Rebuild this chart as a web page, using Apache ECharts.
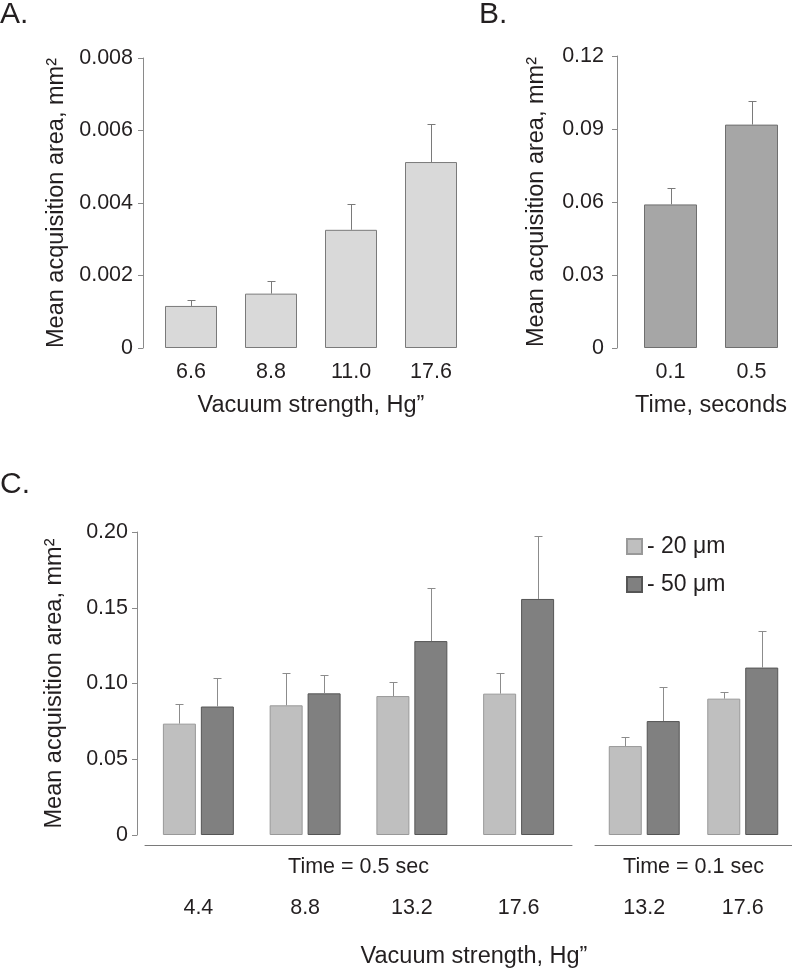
<!DOCTYPE html>
<html>
<head>
<meta charset="utf-8">
<script src="https://cdn.jsdelivr.net/npm/echarts@6/dist/echarts.min.js"></script>
<style>
  html, body { margin: 0; padding: 0; background: #fff; }
  #chart { width: 792px; height: 970px; }
</style>
</head>
<body>
<div id="chart"></div>
<script>
// panel A: vacuum strength
const vacuumA = ['6.6', '8.8', '11.0', '17.6'];
const meanA = [0.00116, 0.0015, 0.00326, 0.00513];
const errA = [0.00016, 0.00036, 0.00071, 0.00106];

// panel B: time
const timeB = ['0.1', '0.5'];
const meanB = [0.059, 0.0918];
const errB = [0.0068, 0.0099];

// panel C: time = 0.5 sec
const vacuumC1 = ['4.4', '8.8', '13.2', '17.6'];
const mean20C1 = [0.0735, 0.0856, 0.0917, 0.0933];
const err20C1 = [0.0132, 0.0216, 0.0096, 0.0139];
const mean50C1 = [0.0848, 0.0935, 0.128, 0.1558];
const err50C1 = [0.0191, 0.0121, 0.0348, 0.0414];

// panel C: time = 0.1 sec
const vacuumC2 = ['13.2', '17.6'];
const mean20C2 = [0.0587, 0.09];
const err20C2 = [0.006, 0.0044];
const mean50C2 = [0.0752, 0.1105];
const err50C2 = [0.0225, 0.0242];

const FONT = "'Liberation Sans', Arial, sans-serif";
const TXT = '#231f20';
const AXIS = '#8a8a8a';
const NAME_SIZE = 23.5;
const TICK_SIZE = 21.5;

const chart = echarts.init(document.getElementById('chart'), null, { renderer: 'canvas' });

function yAxis(idx, max, interval, digits, offset, margin, show) {
  return {
    type: 'value', gridIndex: idx, min: 0, max: max, interval: interval,
    show: show !== false, offset: offset,
    name: 'Mean acquisition area, mm²', nameLocation: 'middle', nameGap: 74,
    nameMoveOverlap: false,
    nameTextStyle: { fontFamily: FONT, fontSize: NAME_SIZE, color: TXT },
    axisLine: { show: true, lineStyle: { color: AXIS, width: 1 } },
    axisTick: { show: true, length: 5, lineStyle: { color: AXIS } },
    axisLabel: {
      margin: margin, fontFamily: FONT, fontSize: TICK_SIZE, color: TXT,
      formatter: v => v === 0 ? '0' : v.toFixed(digits)
    },
    splitLine: { show: false }
  };
}

function xAxis(idx, cats, name, opts) {
  return Object.assign({
    type: 'category', gridIndex: idx, data: cats,
    name: name, nameLocation: 'middle', nameGap: 46,
    nameMoveOverlap: false,
    nameTextStyle: { fontFamily: FONT, fontSize: NAME_SIZE, color: TXT },
    axisLine: { show: false, onZero: false },
    axisTick: { show: false },
    axisLabel: { margin: 13, fontFamily: FONT, fontSize: TICK_SIZE, color: TXT },
    splitLine: { show: false }
  }, opts || {});
}

function bars(name, idx, values, color, border, width) {
  return {
    type: 'bar', name: name, xAxisIndex: idx, yAxisIndex: idx,
    data: values, barWidth: width, barGap: '15%',
    itemStyle: { color: color, borderColor: border, borderWidth: 1 },
    silent: true
  };
}

// error bar: vertical whisker from the bar top with a small cap
function errors(idx, means, errs, shift, stroke) {
  return {
    type: 'custom', xAxisIndex: idx, yAxisIndex: idx, silent: true, z: 3,
    data: means.map((m, i) => [i, m, errs[i]]),
    encode: { x: 0, y: 1 },
    renderItem: function (params, api) {
      const base = api.coord([api.value(0), api.value(1)]);
      const top = api.coord([api.value(0), api.value(1) + api.value(2)]);
      const cx = Math.round(base[0] + shift) + 0.5;
      const ty = Math.round(top[1]) + 0.5;
      const style = { stroke: stroke, lineWidth: 1 };
      return {
        type: 'group',
        children: [
          { type: 'line', shape: { x1: cx, y1: base[1], x2: cx, y2: ty }, style: style },
          { type: 'line', shape: { x1: cx - 4, y1: ty, x2: cx + 4, y2: ty }, style: style }
        ]
      };
    }
  };
}

const lineC = { show: true, onZero: false, lineStyle: { color: '#7a7a7a', width: 1 } };
const labelC = { margin: 52, fontFamily: FONT, fontSize: TICK_SIZE, color: TXT };
const nameC = { fontFamily: FONT, fontSize: TICK_SIZE, color: TXT };

const option = {
  animation: false,
  backgroundColor: '#fff',
  textStyle: { fontFamily: FONT },
  grid: [
    { left: 151, top: 58, width: 320, height: 290 },
    { left: 630, top: 56, width: 168, height: 292 },
    { left: 145, top: 532, width: 427, height: 303 },
    { left: 595, top: 532, width: 206, height: 303 }
  ],
  xAxis: [
    xAxis(0, vacuumA, 'Vacuum strength, Hg”'),
    xAxis(1, timeB, 'Time, seconds'),
    xAxis(2, vacuumC1, 'Time = 0.5 sec', {
      offset: 10, axisLine: lineC, nameGap: 11, axisLabel: labelC, nameTextStyle: nameC
    }),
    xAxis(3, vacuumC2, 'Time = 0.1 sec', {
      offset: 10, axisLine: lineC, nameGap: 11, axisLabel: labelC, nameTextStyle: nameC
    })
  ],
  yAxis: [
    yAxis(0, 0.008, 0.002, 3, 8, 10),
    Object.assign(yAxis(1, 0.12, 0.03, 2, 13, 13), { nameGap: 68 }),
    Object.assign(yAxis(2, 0.2, 0.05, 2, 8, 9), { nameGap: 70 }),
    yAxis(3, 0.2, 0.05, 2, 0, 9, false)
  ],
  legend: {
    orient: 'vertical', left: 626, top: 535, padding: 0,
    itemWidth: 15, itemHeight: 15, itemGap: 15,
    icon: 'rect',
    textStyle: { fontFamily: FONT, fontSize: 23, color: TXT },
    data: ['- 20 μm', '- 50 μm']
  },
  graphic: [
    { type: 'text', left: 0, top: 0, style: { text: 'A.', font: '30px ' + FONT, fill: TXT } },
    { type: 'text', left: 479, top: 0, style: { text: 'B.', font: '30px ' + FONT, fill: TXT } },
    { type: 'text', left: 0, top: 470, style: { text: 'C.', font: '30px ' + FONT, fill: TXT } },
    {
      type: 'text', x: 474, y: 957,
      style: {
        text: 'Vacuum strength, Hg”', font: NAME_SIZE + 'px ' + FONT, fill: TXT,
        textAlign: 'center', textVerticalAlign: 'middle'
      }
    }
  ],
  series: [
    bars('A', 0, meanA, '#d9d9d9', '#7a7a7a', 52),
    errors(0, meanA, errA, 0, '#7a7a7a'),
    bars('B', 1, meanB, '#a6a6a6', '#6f6f6f', 53),
    errors(1, meanB, errB, 0, '#7a7a7a'),
    bars('- 20 μm', 2, mean20C1, '#bfbfbf', '#999999', 33),
    bars('- 50 μm', 2, mean50C1, '#808080', '#555555', 33),
    errors(2, mean20C1, err20C1, -19, '#8c8c8c'),
    errors(2, mean50C1, err50C1, 19, '#8c8c8c'),
    bars('- 20 μm', 3, mean20C2, '#bfbfbf', '#999999', 33),
    bars('- 50 μm', 3, mean50C2, '#808080', '#555555', 33),
    errors(3, mean20C2, err20C2, -19, '#8c8c8c'),
    errors(3, mean50C2, err50C2, 19, '#8c8c8c')
  ]
};

chart.setOption(option);
</script>
</body>
</html>
